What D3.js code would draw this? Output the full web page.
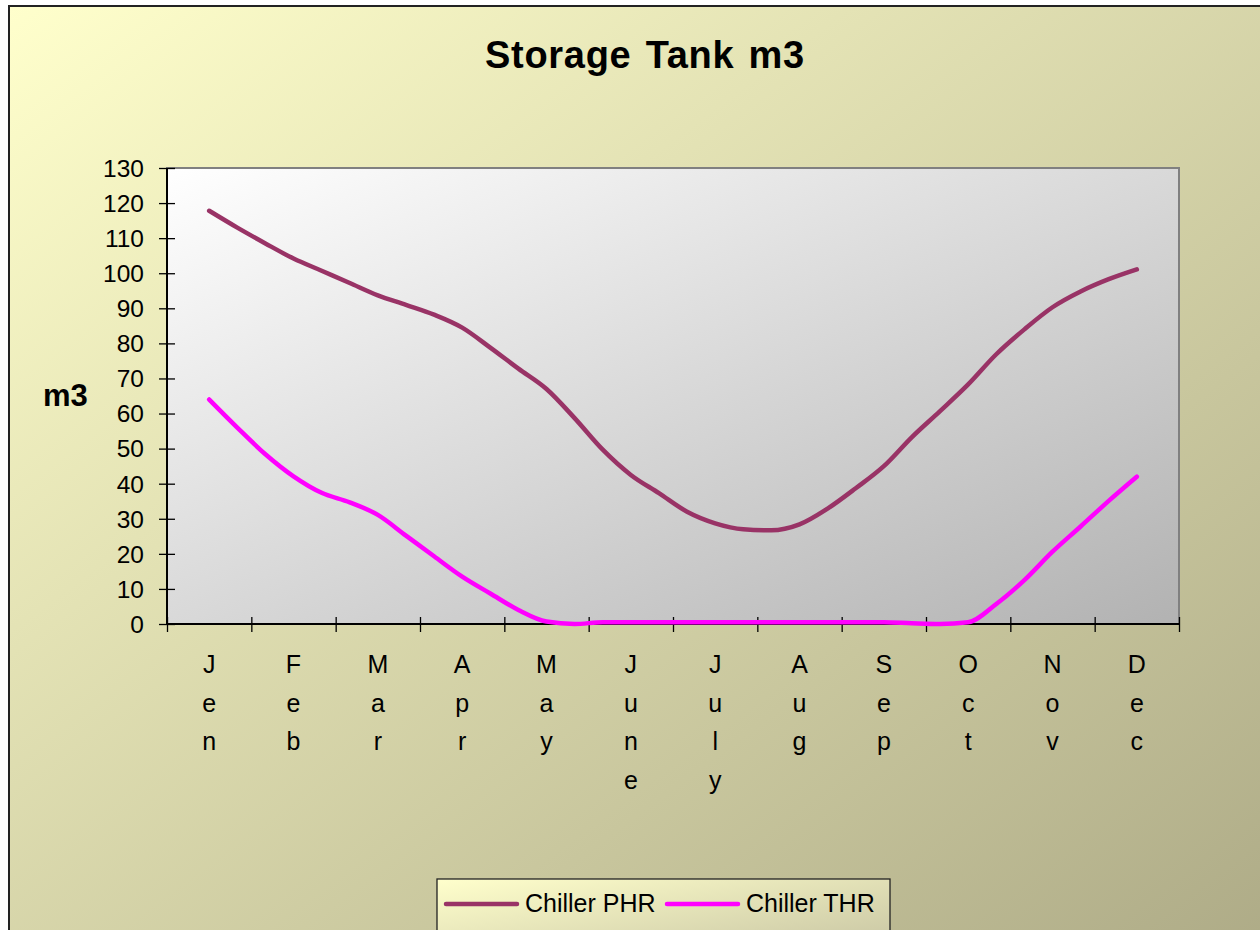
<!DOCTYPE html>
<html>
<head>
<meta charset="utf-8">
<script src="https://cdn.jsdelivr.net/npm/d3@7"></script>
<style>
  html, body { margin: 0; padding: 0; background: #ffffff; }
  svg { display: block; }
  text { font-family: Arial, "Liberation Sans", sans-serif; fill: #000; }
</style>
</head>
<body>
<svg id="chart" width="1260" height="930"></svg>
<script>
// ---------- data ----------
const title = "Storage Tank m3";
const yTitle = "m3";
const months = ["Jen", "Feb", "Mar", "Apr", "May", "June", "July", "Aug", "Sep", "Oct", "Nov", "Dec"];
const yTicks = [0, 10, 20, 30, 40, 50, 60, 70, 80, 90, 100, 110, 120, 130];
const samplesPerMonth = 3; // readings every third of a month, Jen .. Dec
const chillerPHR = [117.8, 113, 108.5, 104.2, 100.7, 97.2, 93.7, 91, 88.2, 84.5, 78.8, 72.8,
                    67, 58.7, 49.7, 42.5, 37.3, 32, 28.7, 27, 26.7, 28.4, 32.9, 38.7,
                    45, 53.3, 60.7, 68.3, 76.9, 84, 90.3, 94.8, 98.3, 101.1];
const chillerTHR = [64, 56, 48.4, 42.1, 37.4, 34.7, 31.1, 25.2, 19.3, 13.5, 8.7, 4,
                    0.7, 0, 0.5, 0.5, 0.5, 0.5, 0.5, 0.5, 0.5, 0.5, 0.5, 0.5,
                    0.5, 0.2, 0, 0.5, 5.7, 12.5, 20.6, 27.8, 35.1, 42];
const seriesNames = ["Chiller PHR", "Chiller THR"];
const seriesColors = ["#993366", "#FF00FF"];

// ---------- layout ----------
const W = 1260, H = 930;
const plot = { left: 167, top: 168, right: 1179, bottom: 624 };

const svg = d3.select("#chart");
const defs = svg.append("defs");

function diagGrad(id, c0, c1) {
  const g = defs.append("linearGradient").attr("id", id)
    .attr("x1", 0).attr("y1", 0).attr("x2", 1).attr("y2", 1);
  g.append("stop").attr("offset", "0%").attr("stop-color", c0);
  g.append("stop").attr("offset", "100%").attr("stop-color", c1);
}
diagGrad("bgGrad", "#FFFFCC", "#ADAA86");
diagGrad("plotGrad", "#FFFFFF", "#B2B2B2");
diagGrad("legGrad", "#FFFFCC", "#C4C1A0");

// page background and chart area
svg.append("rect").attr("x", 0).attr("y", 0).attr("width", W).attr("height", H).attr("fill", "#ffffff");
svg.append("rect").attr("x", 9).attr("y", 6).attr("width", W + 20).attr("height", H + 20)
  .attr("fill", "url(#bgGrad)").attr("stroke", "#222").attr("stroke-width", 2);

// plot area
svg.append("rect").attr("x", plot.left).attr("y", plot.top)
  .attr("width", plot.right - plot.left).attr("height", plot.bottom - plot.top)
  .attr("fill", "url(#plotGrad)").attr("stroke", "#808080").attr("stroke-width", 2);

// ---------- scales ----------
const y = d3.scaleLinear().domain([0, 130]).range([plot.bottom, plot.top]);
const xBand = d3.scaleBand().domain(months).range([plot.left, plot.right]).paddingInner(0).paddingOuter(0);
const xEdge = d3.scaleLinear().domain([0, months.length]).range([plot.left, plot.right]);
// position of the k-th reading: centre of January plus k/samplesPerMonth months
const xPos = k => xEdge(0.5 + k / samplesPerMonth);

// ---------- axes ----------
const yAxis = d3.axisLeft(y).tickValues(yTicks).tickSize(0).tickPadding(23);
const gy = svg.append("g").attr("transform", `translate(${plot.left},0)`).call(yAxis);
gy.select(".domain").remove();
gy.selectAll(".tick text").attr("font-size", 24.5).attr("font-family", "Arial, 'Liberation Sans', sans-serif")
  .attr("fill", "#000").attr("dy", "0.34em");
gy.selectAll(".tick").append("line").attr("x1", -8).attr("x2", 8).attr("stroke", "#000").attr("stroke-width", 1.3);

const xAxis = d3.axisBottom(xEdge).tickValues(d3.range(months.length + 1)).tickSize(0).tickFormat("");
const gx = svg.append("g").attr("transform", `translate(0,${plot.bottom})`).call(xAxis);
gx.select(".domain").remove();
gx.selectAll(".tick").append("line").attr("y1", -7).attr("y2", 8).attr("stroke", "#000").attr("stroke-width", 1.3);

// axis lines
svg.append("line").attr("x1", plot.left).attr("x2", plot.left).attr("y1", plot.top).attr("y2", plot.bottom + 1)
  .attr("stroke", "#000").attr("stroke-width", 2);
svg.append("line").attr("x1", plot.left).attr("x2", plot.right).attr("y1", plot.bottom).attr("y2", plot.bottom)
  .attr("stroke", "#000").attr("stroke-width", 2);

// vertical month labels, one letter per line
const lab = svg.append("g").attr("font-size", 25).attr("text-anchor", "middle");
months.forEach(m => {
  const cx = xBand(m) + xBand.bandwidth() / 2;
  m.split("").forEach((ch, i) => {
    lab.append("text").attr("x", cx).attr("y", 673 + i * 38.5).text(ch);
  });
});

// ---------- lines ----------
const line = d3.line().x((d, i) => xPos(i)).y(d => y(d)).curve(d3.curveMonotoneX);
[chillerPHR, chillerTHR].forEach((data, s) => {
  svg.append("path").datum(data).attr("d", line)
    .attr("fill", "none").attr("stroke", seriesColors[s]).attr("stroke-width", 4.5)
    .attr("stroke-linejoin", "round").attr("stroke-linecap", "round");
});

// ---------- titles ----------
svg.append("text").attr("x", 645).attr("y", 68).attr("text-anchor", "middle")
  .attr("font-size", 38).attr("font-weight", "bold").attr("letter-spacing", 0.7).attr("word-spacing", 3)
  .text(title);
svg.append("text").attr("x", 43).attr("y", 406)
  .attr("font-size", 31).attr("font-weight", "bold").text(yTitle);

// ---------- legend ----------
const leg = svg.append("g");
leg.append("rect").attr("x", 437).attr("y", 879).attr("width", 453).attr("height", 80)
  .attr("fill", "url(#legGrad)").attr("stroke", "#222").attr("stroke-width", 1.3);
const legX = [446, 667];
seriesNames.forEach((name, s) => {
  leg.append("line").attr("x1", legX[s]).attr("x2", legX[s] + 71).attr("y1", 904).attr("y2", 904)
    .attr("stroke", seriesColors[s]).attr("stroke-width", 4.5).attr("stroke-linecap", "round");
  leg.append("text").attr("x", legX[s] + 79).attr("y", 912).attr("font-size", 25).text(name);
});
</script>
</body>
</html>
